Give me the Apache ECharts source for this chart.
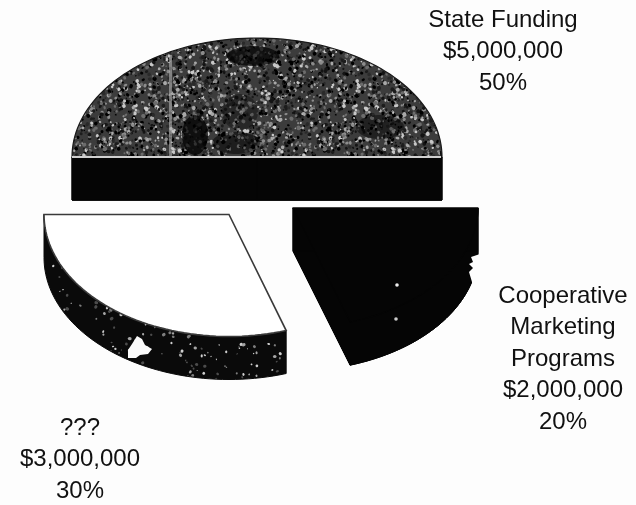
<!DOCTYPE html>
<html>
<head>
<meta charset="utf-8">
<style>html,body{margin:0;padding:0;background:#fdfdfd}#c{width:636px;height:505px;filter:blur(0.6px)}</style>
<script src="https://cdn.jsdelivr.net/npm/echarts@6/dist/echarts.min.js"></script>
</head>
<body>
<div id="c"></div>
<script>
// Data
const sliceNames = ['State Funding', 'Cooperative\nMarketing\nPrograms', '???'];
const sliceValues = [5000000, 2000000, 3000000];
const sliceAmounts = ['$5,000,000', '$2,000,000', '$3,000,000'];
const slicePercents = ['50%', '20%', '30%'];

// Layout only (pixels), one entry per slice
const centers = [[257, 157], [293, 208], [229, 214.5]];
const radiiY = [119, 120, 122];
const labelAnchors = [[503, 20], [563, 296], [80, 428]];
const solidBase = [true, true, false];
const topFill = ['speckDense', 'black', '#ffffff'];
const rimFill = ['black', 'black', 'speckSparse'];
const radiusX = 185, depth = 43, lineGap = 31.5, startAngle = 180;

// Deterministic scan-grain textures
function grain(bg, count, minR, maxR, levels, seed) {
  const size = 220, cv = document.createElement('canvas');
  cv.width = cv.height = size;
  const g = cv.getContext('2d');
  g.fillStyle = bg; g.fillRect(0, 0, size, size);
  let s = seed;
  const next = () => (s = (s * 16807) % 2147483647) / 2147483647;
  for (let i = 0; i < count; i++) {
    const x = next() * size, y = next() * size, r = minR + next() * (maxR - minR);
    g.fillStyle = levels[Math.floor(next() * levels.length)];
    g.beginPath(); g.ellipse(x, y, r, r * (0.6 + next() * 0.6), next() * 3, 0, 7); g.fill();
  }
  return cv;
}
const fills = {
  speckDense: { image: grain('#3c3c3c', 4200, 0.8, 2.1, ['#000000','#141414','#2a2a2a','#6c6c6c','#8c8c8c','#a8a8a8','#c8c8c8','#000000','#1c1c1c'], 4711), repeat: 'repeat' },
  speckSparse: { image: grain('#0a0a0a', 420, 0.7, 1.7, ['#7d7d7d','#a5a5a5','#cfcfcf','#4c4c4c'], 991), repeat: 'repeat' },
  black: '#050505'
};
const paint = f => fills[f] || f;

const total = sliceValues.reduce((a, b) => a + b, 0);

function renderSlice(params, api) {
  const i = params.dataIndex;
  let before = 0;
  for (let k = 0; k < i; k++) before += sliceValues[k];
  const a0 = startAngle + before / total * 360;
  const a1 = a0 + api.value(0) / total * 360;
  const [cx, cy] = centers[i];
  const at = d => {
    const t = d * Math.PI / 180;
    return [cx + radiusX * Math.cos(t), cy + radiiY[i] * Math.sin(t)];
  };
  const arc = [];
  const n = Math.ceil((a1 - a0) / 2);
  for (let k = 0; k <= n; k++) arc.push(at(a0 + (a1 - a0) * k / n));
  const down = p => [p[0], p[1] + depth];
  const centre = [cx, cy];
  const rimStyle = rimFill[i] === 'black'
    ? { fill: '#050505', stroke: '#050505', lineWidth: 1 }
    : { fill: paint(rimFill[i]), stroke: '#0a0a0a', lineWidth: 1 };
  const children = [];
  const poly = (points, style) => children.push({ type: 'polygon', shape: { points }, style });
  // near-side wall along the arc
  const nearArc = arc.filter(p => p[1] >= cy - 0.01);
  if (nearArc.length > 1) poly(nearArc.concat(nearArc.map(down).reverse()), rimStyle);
  if (solidBase[i]) {
    const first = arc[0], last = arc[arc.length - 1];
    poly([centre, first, down(first), down(centre)], rimStyle);
    poly([centre, last, down(last), down(centre)], rimStyle);
    if (nearArc.length > 1) poly([down(centre)].concat(nearArc.map(down)), rimStyle);
  }
  // top face
  poly([centre].concat(arc), {
    fill: paint(topFill[i]),
    stroke: i === 2 ? '#3a3a3a' : (i === 1 ? '#050505' : '#1a1a1a'),
    lineWidth: i === 2 ? 1.6 : 1.2
  });
  // label rows
  const rows = sliceNames[i].split('\n').concat([sliceAmounts[i], slicePercents[i]]);
  rows.forEach((t, r) => children.push({
    type: 'text',
    style: {
      text: t, x: labelAnchors[i][0], y: labelAnchors[i][1] + r * lineGap,
      font: '24px "Liberation Sans", Arial, sans-serif',
      fill: '#111111', align: 'center', verticalAlign: 'middle'
    }
  }));
  return { type: 'group', children };
}

const chart = echarts.init(document.getElementById('c'), null, { renderer: 'canvas', width: 636, height: 505 });
const blotch = (cx, cy, rx, ry, a) => ({ type: 'ellipse', z: 10, shape: { cx, cy, rx, ry }, style: { fill: 'rgba(0,0,0,' + a + ')' } });
chart.setOption({
  animation: false,
  backgroundColor: '#fdfdfd',
  series: [{
    type: 'custom',
    coordinateSystem: 'none',
    silent: true,
    encode: { value: 0 },
    data: sliceValues.map((v, i) => ({ name: sliceNames[i], value: [v] })),
    renderItem: renderSlice
  }],
  graphic: [
    // scan blemishes
    blotch(253, 56, 26, 10, 0.7),
    blotch(195, 135, 13, 20, 0.75),
    blotch(240, 112, 18, 18, 0.35),
    blotch(380, 127, 24, 12, 0.45),
    blotch(236, 143, 24, 11, 0.5),
    { type: 'rect', z: 10, shape: { x: 72, y: 156, width: 369, height: 2 }, style: { fill: '#d0d0d0' } },
    { type: 'rect', z: 10, shape: { x: 169, y: 55, width: 3, height: 102 }, style: { fill: 'rgba(190,190,190,0.55)' } },
    { type: 'polygon', z: 10, shape: { points: [[137,336],[142,339],[145,345],[152,349],[148,354],[140,355],[136,358],[128,358],[128,350],[132,344]] }, style: { fill: '#fafafa' } },
    { type: 'circle', z: 10, shape: { cx: 397, cy: 285, r: 1.8 }, style: { fill: '#eee' } },
    { type: 'circle', z: 10, shape: { cx: 396, cy: 319, r: 1.8 }, style: { fill: '#ccc' } },
    { type: 'polygon', z: 10, shape: { points: [[480,254],[471,257],[473,262],[469,264],[473,268],[469,272],[472,282],[482,282]] }, style: { fill: '#fdfdfd' } }
  ]
});
</script>
</body>
</html>
